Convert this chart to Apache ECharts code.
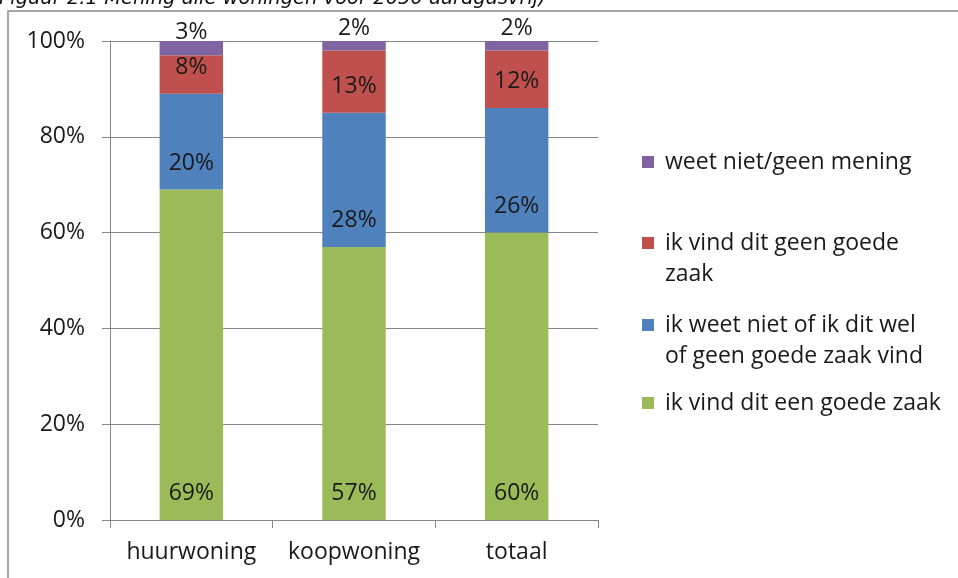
<!DOCTYPE html>
<html>
<head>
<meta charset="utf-8">
<script src="https://cdn.jsdelivr.net/npm/echarts@6/dist/echarts.min.js"></script>
<style>
  html, body { margin: 0; padding: 0; background: #fff; }
  #chart { width: 958px; height: 578px; }
</style>
</head>
<body>
<div id="chart"></div>
<script>
const titleText = 'Figuur 2.1 Mening alle woningen voor 2050 aardgasvrij)';
const categories = ['huurwoning', 'koopwoning', 'totaal'];
const goedeZaak = [69, 57, 60];
const weetNietOf = [20, 28, 26];
const geenGoedeZaak = [8, 13, 12];
const geenMening = [3, 2, 2];
const seriesNames = [
  'ik vind dit een goede zaak',
  'ik weet niet of ik dit wel of geen goede zaak vind',
  'ik vind dit geen goede zaak',
  'weet niet/geen mening'
];
const legendTexts = {
  'weet niet/geen mening': 'weet niet/geen mening',
  'ik vind dit geen goede zaak': '\nik vind dit geen goede\nzaak',
  'ik weet niet of ik dit wel of geen goede zaak vind': '\nik weet niet of ik dit wel\nof geen goede zaak vind',
  'ik vind dit een goede zaak': 'ik vind dit een goede zaak'
};
const colors = ['#9BBB59', '#4F81BD', '#C0504D', '#8064A2'];

const FONT = 'Open Sans';
const FS = 23;
const chart = echarts.init(document.getElementById('chart'), null, { renderer: 'canvas' });

function mkLegend(name, top) {
  return {
    data: [name],
    orient: 'vertical',
    left: 642,
    top: top,
    padding: 0,
    itemWidth: 12,
    itemHeight: 12,
    icon: 'rect',
    selectedMode: false,
    formatter: n => legendTexts[n],
    textStyle: {
      fontFamily: FONT,
      fontSize: FS,
      lineHeight: 31,
      color: '#1a1a1a',
      padding: [0, 0, 0, 6]
    }
  };
}

const dataSets = [goedeZaak, weetNietOf, geenGoedeZaak, geenMening];

const option = {
  animation: false,
  backgroundColor: '#fff',
  graphic: [
    {
      type: 'rect',
      shape: { x: 8, y: 11, width: 1000, height: 700 },
      style: { fill: 'none', stroke: '#8a8a8a', lineWidth: 1.5 },
      silent: true
    },
    {
      type: 'text',
      x: -1,
      y: 9,
      style: {
        text: titleText,
        font: 'italic 19.5px "DejaVu Sans"',
        fill: '#111',
        verticalAlign: 'bottom'
      },
      silent: true
    }
  ],
  legend: [
    mkLegend(seriesNames[3], 146.5),
    mkLegend(seriesNames[2], 196.5),
    mkLegend(seriesNames[1], 278.5),
    mkLegend(seriesNames[0], 387.5)
  ],
  grid: { left: 110, right: 360, top: 41, bottom: 58, containLabel: false },
  xAxis: {
    type: 'category',
    data: categories,
    axisLine: { lineStyle: { color: '#868686', width: 1 } },
    axisTick: { show: true, length: 8, lineStyle: { color: '#868686' } },
    axisLabel: { interval: 0, hideOverlap: false, fontFamily: FONT, fontSize: FS, color: '#1a1a1a', margin: 21 }
  },
  yAxis: {
    type: 'value',
    min: 0,
    max: 100,
    interval: 20,
    axisLine: { show: true, lineStyle: { color: '#868686', width: 1 } },
    axisTick: { show: true, length: 8, lineStyle: { color: '#868686' } },
    splitLine: { show: true, lineStyle: { color: '#868686', width: 1 } },
    axisLabel: { fontFamily: FONT, fontSize: FS, color: '#1a1a1a', margin: 25, formatter: '{value}%' }
  },
  series: seriesNames.map((name, i) => ({
    name: name,
    type: 'bar',
    stack: 'total',
    barWidth: '39%',
    data: dataSets[i],
    itemStyle: { color: colors[i] },
    label: {
      show: true,
      position: 'insideBottom',
      distance: i === 3 ? 11 : 15,
      formatter: '{c}%',
      fontFamily: FONT,
      fontSize: FS,
      lineHeight: 23,
      color: '#1a1a1a'
    }
  }))
};
chart.setOption(option);
</script>
</body>
</html>
